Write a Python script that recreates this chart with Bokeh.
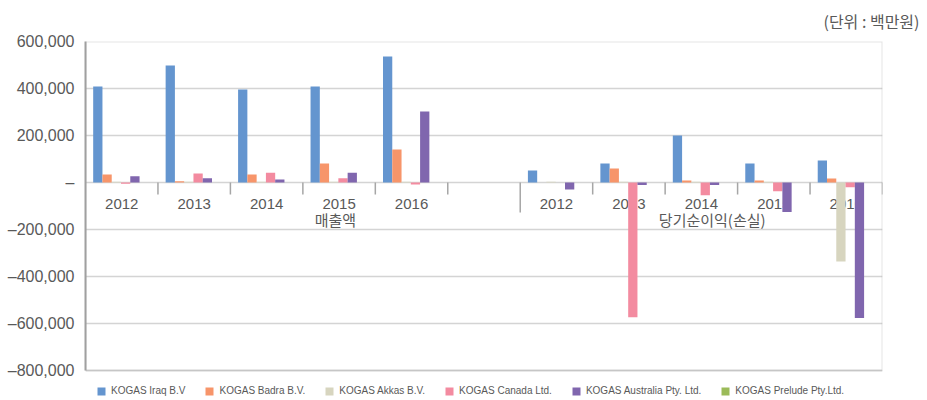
from bokeh.plotting import figure
from bokeh.models import (FactorRange, Range1d, FixedTicker, Legend, LegendItem,
                          Title, ColumnDataSource, BoxAnnotation)
from bokeh.transform import dodge
from bokeh.core.properties import value
from bokeh.embed import file_html
from bokeh.resources import INLINE

# ---------------- data ----------------
groups = ["매출액", "당기순이익(손실)"]
years = ["2012", "2013", "2014", "2015", "2016"]
companies = ["KOGAS Iraq B.V", "KOGAS Badra B.V.", "KOGAS Akkas B.V.",
             "KOGAS Canada Ltd.", "KOGAS Australia Pty. Ltd.", "KOGAS Prelude Pty.Ltd."]
colors = ["#6495CF", "#F7956A", "#D7D5BF", "#F38BA0", "#8066AE", "#9BBB59"]

# first five: 매출액 2012-2016, last five: 당기순이익(손실) 2012-2016 (백만원)
iraq = [408000, 498000, 396000, 408000, 536000, 51000, 81000, 200000, 81000, 94000]
badra = [34000, 5000, 34000, 81000, 140000, 0, 60000, 8000, 8000, 17000]
akkas = [3000, 3000, 3000, 3000, 3000, 3000, 3000, 3000, 3000, -336000]
canada = [-5000, 38000, 42000, 18000, -9000, 0, -573000, -54000, -37000, -20000]
australia = [27000, 18000, 13000, 42000, 302000, -30000, -11000, -11000, -126000, -577000]
prelude = [0, 0, 0, 0, 0, 0, 0, 0, 0, 0]

y_ticks = [-800000, -600000, -400000, -200000, 0, 200000, 400000, 600000]
y_tick_labels = ["–800,000", "–600,000", "–400,000", "–200,000", "–",
                 "200,000", "400,000", "600,000"]

unit_text = "(단위 : 백만원)"

# ---------------- layout constants ----------------
W, H = 921, 396
FRAME_TOP, AXIS_BOTTOM = 41, 370          # pixel rows of 600,000 and -800,000
FRAME_RIGHT = 882
span_px = AXIS_BOTTOM - FRAME_TOP
y_lo = y_ticks[0] - (H - AXIS_BOTTOM) * (y_ticks[-1] - y_ticks[0]) / span_px

# ---------------- figure ----------------
factors = [(g, y) for g in groups for y in years]
series = [iraq, badra, akkas, canada, australia, prelude]
keys = ["iraq", "badra", "akkas", "canada", "australia", "prelude"]

data = dict(x=factors, year=[y for g in groups for y in years])
for k, s in zip(keys, series):
    data[k] = s
source = ColumnDataSource(data)

x_range = FactorRange(factors=factors, factor_padding=0.0, group_padding=1.0,
                      subgroup_padding=0.0, range_padding=0.0)

p = figure(x_range=x_range, y_range=Range1d(y_lo, y_ticks[-1]),
           width=W, height=H, output_backend="svg", toolbar_location=None,
           x_axis_location=None,
           min_border_left=85, min_border_right=W - FRAME_RIGHT,
           min_border_top=FRAME_TOP, min_border_bottom=0)

p.background_fill_color = "white"
p.border_fill_color = "white"
p.outline_line_color = None
p.xgrid.visible = False
p.ygrid.ticker = FixedTicker(ticks=y_ticks)
p.ygrid.grid_line_color = "#d4d4d4"
p.ygrid.grid_line_width = 1.5

# plot-area border
p.add_layout(BoxAnnotation(bottom=y_ticks[0], top=y_ticks[-1], fill_alpha=0,
                           line_color="#a6a6a6", line_width=2, level="underlay"))

ax = p.yaxis[0]
ax.ticker = FixedTicker(ticks=y_ticks)
ax.bounds = (y_ticks[0], y_ticks[-1])
ax.major_label_overrides = {t: l for t, l in zip(y_ticks, y_tick_labels)}
ax.major_tick_line_color = None
ax.minor_tick_line_color = None
ax.major_tick_out = 0
ax.major_tick_in = 0
ax.major_label_standoff = 11
ax.axis_line_color = "#a0a0a0"
ax.axis_line_width = 2
ax.major_label_text_font = "Liberation Sans"
ax.major_label_text_font_size = "16px"
ax.major_label_text_color = "#595959"

# category tick marks
p.segment(x0=dodge("x", 0.5, range=x_range), x1=dodge("x", 0.5, range=x_range),
          y0=0, y1=-51000, source=source, line_color="#a6a6a6", line_width=1.5)
p.segment(x0=dodge("x", -0.5, range=x_range), x1=dodge("x", -0.5, range=x_range),
          y0=0, y1=-128000, source=ColumnDataSource(dict(x=[factors[5]])),
          line_color="#a6a6a6", line_width=1.5)

# year labels
p.text(x="x", y=0, text="year", source=source, y_offset=21,
       text_align="center", text_baseline="middle", text_font_size="15px",
       text_color="#595959", text_font=value("Liberation Sans"))

# group labels
p.text(x=dodge("x", -0.05, range=x_range), y=0, text="t",
       source=ColumnDataSource(dict(x=[factors[3]], t=[groups[0]])),
       y_offset=37, text_align="center", text_baseline="middle",
       text_font_size="15px", text_color="#595959",
       text_font=value("Noto Sans CJK KR"))
p.text(x=dodge("x", 0.15, range=x_range), y=0, text="t",
       source=ColumnDataSource(dict(x=[factors[7]], t=[groups[1]])),
       y_offset=37, text_align="center", text_baseline="middle",
       text_font_size="15px", text_color="#595959",
       text_font=value("Noto Sans CJK KR"))

# bars
bar_w = 0.128
items = []
for i, (k, name, c) in enumerate(zip(keys, companies, colors)):
    off = -0.33 + i * bar_w
    r = p.vbar(x=dodge("x", off, range=x_range), top=k, bottom=0, width=bar_w,
               source=source, fill_color=c, line_color=None)
    items.append(LegendItem(label=name, renderers=[r]))

legend = Legend(items=items, orientation="horizontal", location=(11, 0),
                glyph_width=10, glyph_height=10, label_standoff=5, spacing=19,
                label_height=10, label_text_font_size="10px",
                label_text_color="#595959", label_text_font="Liberation Sans",
                padding=0, margin=0, border_line_color=None,
                background_fill_alpha=0)
p.add_layout(legend, "center")

p.add_layout(Title(text=unit_text, align="right", vertical_align="top",
                   text_font_size="16px",
                   text_font_style="normal", text_color="#595959",
                   text_font="Noto Sans CJK KR", standoff=14,
                   offset=-(919 - FRAME_RIGHT)),
             "above")

open("out.html", "w").write(file_html(p, INLINE))
